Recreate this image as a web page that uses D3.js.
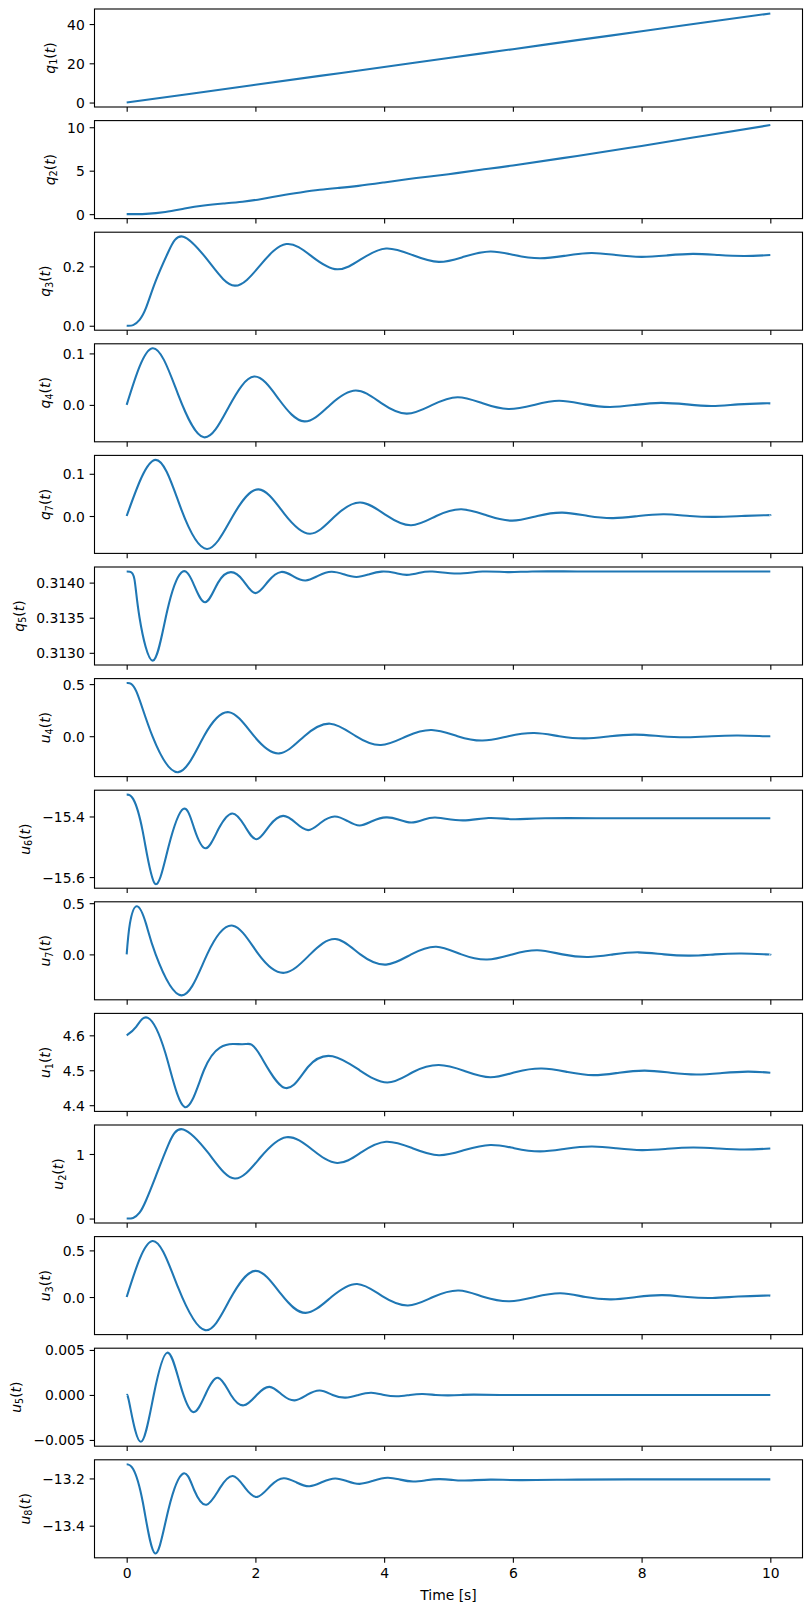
<!DOCTYPE html>
<html>
<head>
<meta charset="utf-8">
<script src="https://cdn.jsdelivr.net/npm/d3@7"></script>
<style>
  body { margin: 0; background: #fff; }
  svg { display: block; }
</style>
</head>
<body>
<div class="canvas"></div>
<script>
// time grid shared by all panels
const xTicks = [0, 2, 4, 6, 8, 10];

// [time, value] pairs
const q1 = [[0,0],[1,4.5],[2,9.05],[3,13.6],[4,18.1],[5,22.7],[6,27.2],[7,31.8],[8,36.3],[9,40.9],[10,45.4]];
const q2 = [[0,0],[0.15,0.005],[0.3,0.03],[0.6,0.25],[0.9,0.65],[1.2,1.0],[1.5,1.22],[1.8,1.42],[2.1,1.75],[2.4,2.15],[2.7,2.5],[3.0,2.8],[3.3,3.02],[3.6,3.25],[4.0,3.65],[4.5,4.15],[5.0,4.6],[5.5,5.1],[6.0,5.6],[7,6.7],[8,7.85],[9,9.05],[10,10.25]];
const q3 = [[0,0],[0.1,0.002],[0.2,0.02],[0.3,0.06],[0.45,0.15],[0.65,0.25],[0.88,0.30],[1.28,0.215],[1.68,0.135],[2.08,0.205],[2.48,0.275],[2.88,0.233],[3.27,0.19],[3.65,0.225],[4.03,0.26],[4.44,0.238],[4.85,0.215],[5.25,0.233],[5.65,0.25],[6.02,0.238],[6.42,0.227],[6.82,0.236],[7.22,0.245],[7.6,0.238],[8.0,0.232],[8.4,0.237],[8.8,0.242],[9.2,0.238],[9.6,0.235],[10,0.238]];
const q4 = [[0,0],[0.4,0.11],[0.8,0.02],[1.2,-0.063],[1.59,-0.003],[1.98,0.055],[2.37,0.01],[2.76,-0.032],[3.16,0.0],[3.56,0.028],[3.95,0.004],[4.35,-0.017],[4.75,0],[5.14,0.015],[5.53,0.003],[5.93,-0.008],[6.33,0.0],[6.72,0.008],[7.12,0.001],[7.51,-0.004],[7.9,0.0],[8.3,0.004],[8.7,0.001],[9.09,-0.002],[9.5,0.001],[9.88,0.003],[10,0.003]];
const q7 = [[0,0],[0.45,0.133],[0.85,0.015],[1.25,-0.078],[1.65,0.0],[2.05,0.063],[2.45,0.005],[2.85,-0.042],[3.24,0],[3.63,0.032],[4.03,0.002],[4.42,-0.022],[4.81,0],[5.2,0.016],[5.6,0.001],[5.99,-0.011],[6.38,0],[6.77,0.008],[7.17,0.0],[7.56,-0.005],[7.95,0],[8.35,0.004],[8.75,0.0],[9.14,-0.002],[9.55,0],[9.93,0.002],[10,0.002]];
const q5 = [[0,0.314158],[0.05,0.314155],[0.12,0.31405],[0.2,0.3135],[0.41,0.31289],[0.63,0.3136],[0.85,0.314145],[1.03,0.31400],[1.22,0.31372],[1.42,0.31400],[1.62,0.314150],[1.81,0.31403],[2.0,0.31385],[2.2,0.31402],[2.4,0.314152],[2.59,0.31409],[2.78,0.31403],[2.98,0.31410],[3.18,0.314155],[3.37,0.31412],[3.57,0.31408],[3.77,0.31412],[3.96,0.314157],[4.16,0.31414],[4.35,0.31411],[4.55,0.31414],[4.75,0.314158],[5.14,0.31413],[5.53,0.314158],[5.92,0.31415],[6.3,0.314159],[7,0.314159],[8,0.314159],[9,0.314159],[10,0.314159]];
const u4 = [[0,0.51],[0.15,0.43],[0.4,0.0],[0.8,-0.345],[1.2,0],[1.59,0.23],[1.98,0],[2.37,-0.165],[2.76,0],[3.16,0.12],[3.56,0],[3.95,-0.085],[4.35,0],[4.74,0.06],[5.14,0],[5.53,-0.042],[5.93,0],[6.33,0.03],[6.72,0],[7.12,-0.021],[7.51,0],[7.9,0.015],[8.3,0],[8.7,-0.01],[9.09,0],[9.5,0.007],[9.88,0],[10,-0.001]];
const u6 = [[0,-15.328],[0.1,-15.342],[0.25,-15.45],[0.44,-15.622],[0.65,-15.5],[0.88,-15.375],[1.05,-15.44],[1.23,-15.505],[1.43,-15.44],[1.64,-15.39],[1.83,-15.43],[2.02,-15.475],[2.22,-15.43],[2.43,-15.398],[2.62,-15.42],[2.82,-15.445],[3.02,-15.42],[3.23,-15.4],[3.43,-15.415],[3.62,-15.43],[3.82,-15.415],[4.03,-15.403],[4.22,-15.41],[4.42,-15.42],[4.62,-15.41],[4.83,-15.404],[5.22,-15.413],[5.62,-15.405],[6.0,-15.409],[6.5,-15.406],[7.5,-15.406],[8.5,-15.406],[10,-15.406]];
const u7 = [[0,0],[0.05,0.3],[0.16,0.47],[0.3,0.3],[0.45,0],[0.85,-0.4],[1.25,0],[1.65,0.28],[2.05,0],[2.45,-0.18],[2.85,0],[3.24,0.15],[3.63,0],[4.03,-0.1],[4.42,0],[4.81,0.075],[5.2,0],[5.6,-0.05],[5.99,0],[6.38,0.04],[6.77,0],[7.17,-0.025],[7.56,0],[7.95,0.02],[8.35,0],[8.75,-0.012],[9.14,0],[9.55,0.008],[9.93,0],[10,-0.001]];
const u1 = [[0,4.60],[0.15,4.625],[0.33,4.65],[0.6,4.55],[0.9,4.395],[1.2,4.5],[1.45,4.565],[1.65,4.575],[1.85,4.575],[2.05,4.55],[2.45,4.45],[2.82,4.51],[3.2,4.54],[3.62,4.5],[4.05,4.465],[4.45,4.495],[4.85,4.515],[5.25,4.498],[5.65,4.48],[6.05,4.495],[6.45,4.505],[6.85,4.495],[7.25,4.486],[7.65,4.493],[8.05,4.499],[8.45,4.493],[8.85,4.488],[9.25,4.492],[9.65,4.496],[10,4.493]];
const u2 = [[0,0],[0.1,0.01],[0.2,0.09],[0.3,0.28],[0.45,0.65],[0.65,1.15],[0.88,1.38],[1.28,1.0],[1.68,0.62],[2.08,0.95],[2.48,1.26],[2.88,1.07],[3.27,0.86],[3.65,1.03],[4.03,1.19],[4.44,1.09],[4.85,0.98],[5.25,1.06],[5.65,1.14],[6.02,1.09],[6.42,1.04],[6.82,1.08],[7.22,1.115],[7.6,1.09],[8.0,1.06],[8.4,1.08],[8.8,1.1],[9.2,1.085],[9.6,1.07],[10,1.085]];
const u3 = [[0,0],[0.4,0.6],[0.8,0.1],[1.22,-0.355],[1.6,-0.03],[2.0,0.28],[2.4,0.03],[2.78,-0.17],[3.18,0],[3.58,0.14],[3.97,0.01],[4.37,-0.09],[4.76,0],[5.16,0.07],[5.55,0.0],[5.95,-0.045],[6.34,0],[6.74,0.04],[7.13,0],[7.53,-0.025],[7.92,0],[8.32,0.02],[8.71,0],[9.1,-0.01],[9.5,0.005],[9.9,0.015],[10,0.015]];
const u5 = [[0,0],[0.05,-0.0012],[0.22,-0.0052],[0.42,0.0],[0.63,0.0047],[0.83,0.0012],[1.03,-0.0019],[1.22,0],[1.42,0.0019],[1.62,0.0],[1.82,-0.00115],[2.02,0],[2.22,0.0009],[2.42,0],[2.61,-0.0006],[2.8,0],[3.0,0.0005],[3.2,0],[3.4,-0.0003],[3.6,0],[3.8,0.00025],[4.0,0],[4.2,-0.00015],[4.4,0],[4.6,0.0001],[4.8,0],[5.0,-0.00005],[5.2,0],[5.4,0.00004],[5.8,0],[6.5,0],[7.5,0],[8.5,0],[10,0]];
const u8 = [[0,-13.14],[0.1,-13.16],[0.25,-13.3],[0.44,-13.517],[0.65,-13.33],[0.88,-13.179],[1.05,-13.25],[1.24,-13.311],[1.45,-13.24],[1.65,-13.19],[1.84,-13.24],[2.03,-13.278],[2.24,-13.23],[2.44,-13.199],[2.64,-13.217],[2.84,-13.233],[3.04,-13.215],[3.24,-13.2],[3.43,-13.212],[3.62,-13.223],[3.83,-13.21],[4.05,-13.197],[4.25,-13.205],[4.45,-13.213],[4.65,-13.208],[4.85,-13.203],[5.05,-13.206],[5.25,-13.209],[5.65,-13.205],[6.1,-13.207],[7,-13.205],[8,-13.204],[9,-13.204],[10,-13.204]];

// y label symbols and subscripts, top to bottom
const symbols = ['q','q','q','q','q','q','u','u','u','u','u','u','u','u'];
const subs = ['1','2','3','4','7','5','4','6','7','1','2','3','5','8'];

// y tick values and their labels per panel
const yTicks = [
  [0, 20, 40], [0, 5, 10], [0, 0.2], [0, 0.1], [0, 0.1], [0.3130, 0.3135, 0.3140], [0, 0.5],
  [-15.6, -15.4], [0, 0.5], [4.4, 4.5, 4.6], [0, 1], [0, 0.5], [-0.005, 0, 0.005], [-13.4, -13.2]
];
const yTickLabels = [
  ['0','20','40'], ['0','5','10'], ['0.0','0.2'], ['0.0','0.1'], ['0.0','0.1'], ['0.3130','0.3135','0.3140'], ['0.0','0.5'],
  ['\u221215.6','\u221215.4'], ['0.0','0.5'], ['4.4','4.5','4.6'], ['0','1'], ['0.0','0.5'], ['\u22120.005','0.000','0.005'], ['\u221213.4','\u221213.2']
];

const seriesData = [q1, q2, q3, q4, q7, q5, u4, u6, u7, u1, u2, u3, u5, u8];

const width = 811;
const height = 1611;
const margin = { top: 9, left: 94.5, right: 8.5 };
const panelHeight = 98;
const pitch = 111.6;
const tickLen = 4.86;
const font = 'DejaVu Sans';
const color = '#1f77b4';

const svg = d3.select('.canvas')
  .append('svg')
  .attr('width', width)
  .attr('height', height)
  .style('background', '#fff');

const x = d3.scaleLinear().domain([-0.5, 10.5]).range([margin.left, width - margin.right]);

seriesData.forEach((data, i) => {
  const top = margin.top + i * pitch;
  const ext = d3.extent(data, d => d[1]);
  const pad = (ext[1] - ext[0]) * 0.05;
  const y = d3.scaleLinear().domain([ext[0] - pad, ext[1] + pad]).range([top + panelHeight, top]);

  const g = svg.append('g').attr('class', 'panel');

  const clipId = `clip${i}`;
  g.append('clipPath').attr('id', clipId)
    .append('rect')
    .attr('x', margin.left).attr('y', top)
    .attr('width', width - margin.right - margin.left).attr('height', panelHeight);

  const line = d3.line().x(d => x(d[0])).y(d => y(d[1])).curve(d3.curveNatural);
  g.append('path')
    .datum(data)
    .attr('clip-path', `url(#${clipId})`)
    .attr('fill', 'none')
    .attr('stroke', color)
    .attr('stroke-width', 2.08)
    .attr('stroke-linejoin', 'round')
    .attr('d', line);

  // y axis
  const yAxisGroup = g.append('g')
    .attr('transform', `translate(${margin.left}, 0)`)
    .call(d3.axisLeft(y).tickValues(yTicks[i]).tickFormat((d, k) => yTickLabels[i][k]).tickSize(tickLen).tickPadding(tickLen));
  yAxisGroup.select('.domain').remove();
  yAxisGroup.selectAll('line').attr('stroke', '#000').attr('stroke-width', 1.1);
  yAxisGroup.selectAll('text')
    .attr('font-family', font).attr('font-size', 13.9).attr('fill', '#000').attr('dy', '0.36em');

  // x axis ticks on every panel, labels only on the last
  const last = i === seriesData.length - 1;
  const xAxisGroup = g.append('g')
    .attr('transform', `translate(0, ${top + panelHeight})`)
    .call(d3.axisBottom(x).tickValues(xTicks).tickSize(tickLen).tickPadding(tickLen).tickFormat(last ? d3.format('d') : ''));
  xAxisGroup.select('.domain').remove();
  xAxisGroup.selectAll('line').attr('stroke', '#000').attr('stroke-width', 1.1);
  xAxisGroup.selectAll('text')
    .attr('font-family', font).attr('font-size', 13.9).attr('fill', '#000').attr('dy', '0.74em');

  // spines
  g.append('rect')
    .attr('x', margin.left).attr('y', top)
    .attr('width', width - margin.right - margin.left).attr('height', panelHeight)
    .attr('fill', 'none').attr('stroke', '#000').attr('stroke-width', 1.1);

  // y label (mathtext-like)
  const tickLeft = d3.min(yAxisGroup.selectAll('text').nodes(), n => n.getBBox().x) + margin.left;
  const label = g.append('text')
    .attr('transform', `translate(${tickLeft - 12.5}, ${top + panelHeight / 2}) rotate(-90)`)
    .attr('text-anchor', 'middle')
    .attr('font-family', font)
    .attr('font-size', 13.9)
    .attr('fill', '#000');
  label.append('tspan').attr('font-style', 'italic').text(symbols[i]);
  label.append('tspan').attr('font-size', 9.7).attr('dy', 2.6).text(subs[i]);
  label.append('tspan').attr('dy', -2.6).text('(');
  label.append('tspan').attr('font-style', 'italic').text('t');
  label.append('tspan').text(')');
});

svg.append('text')
  .attr('x', (margin.left + width - margin.right) / 2)
  .attr('y', 1599.5)
  .attr('text-anchor', 'middle')
  .attr('font-family', font)
  .attr('font-size', 13.9)
  .attr('fill', '#000')
  .text('Time [s]');
</script>
</body>
</html>
